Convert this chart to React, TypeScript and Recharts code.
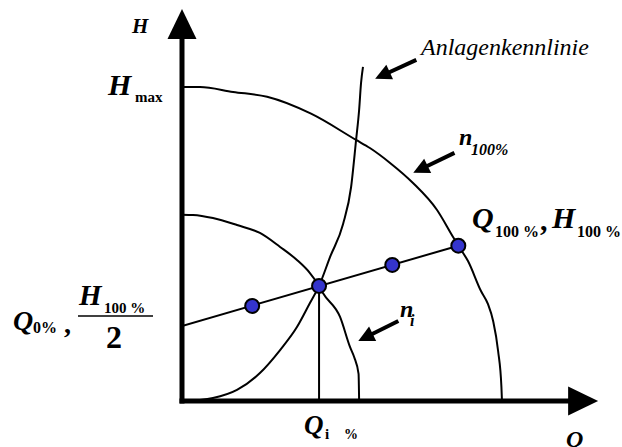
import React from 'react';
import { ComposedChart, Line, Scatter, XAxis, YAxis, ReferenceLine, Customized } from 'recharts';

// Q in % of Q100, H in % of H100
const n100Curve = [
  { q: 0, h: 202.2 }, { q: 6.5, h: 202.2 }, { q: 18.5, h: 199 }, { q: 30.8, h: 195.9 },
  { q: 46.7, h: 185 }, { q: 63, h: 168.1 }, { q: 68, h: 162.9 }, { q: 75.3, h: 153.3 },
  { q: 83.6, h: 140.4 }, { q: 92.3, h: 123 }, { q: 98.1, h: 105.6 }, { q: 100, h: 100 },
  { q: 103.5, h: 90.1 }, { q: 108.2, h: 70.8 }, { q: 110.7, h: 62.5 }, { q: 112.6, h: 51.5 },
  { q: 114.4, h: 32.2 }, { q: 115.6, h: 9 }, { q: 115.8, h: 0 },
];
const niCurve = [
  { q: 0, h: 120 }, { q: 4, h: 119.8 }, { q: 11.2, h: 117.8 }, { q: 19.9, h: 113.3 },
  { q: 28.2, h: 108.2 }, { q: 35.5, h: 99.2 }, { q: 41.6, h: 90.8 }, { q: 46.3, h: 82.4 },
  { q: 49.6, h: 74.1 }, { q: 51, h: 69.5 }, { q: 57.2, h: 54.1 }, { q: 60.8, h: 34.8 },
  { q: 62.3, h: 28.3 }, { q: 63.9, h: 17.4 }, { q: 64.1, h: 0 },
];
const systemCurve = [
  { q: 2.9, h: 0 }, { q: 6.5, h: 0.6 }, { q: 11.2, h: 1.9 }, { q: 19.9, h: 7.1 },
  { q: 28.2, h: 18 }, { q: 35.5, h: 32.8 }, { q: 41.6, h: 47.6 }, { q: 46.3, h: 63.1 },
  { q: 49.6, h: 74.1 }, { q: 53.6, h: 92.8 }, { q: 58.3, h: 114 }, { q: 61.2, h: 137.8 },
  { q: 63, h: 168 }, { q: 64.1, h: 187.4 }, { q: 64.8, h: 204.8 }, { q: 65.5, h: 215.1 },
];
const operatingLine = [{ q: 0, h: 48.3 }, { q: 100, h: 100 }];
const operatingPoints = [
  { q: 25.4, h: 61.2 }, { q: 49.6, h: 74.1 }, { q: 76.1, h: 87.6 }, { q: 100, h: 100 },
];
const qiLine = [{ q: 49.6, h: 0 }, { q: 49.6, h: 74.1 }];

const axisQ = [{ x: 0, y: 0 }, { x: 150.6, y: 0 }];
const axisH = [{ x: 0, y: 0 }, { x: 0, y: 252.4 }];
const annotationArrows = [
  [{ x: 84.8, y: 219.7 }, { x: 69.9, y: 207.5 }],
  [{ x: 98.6, y: 159.8 }, { x: 83.7, y: 146.9 }],
  [{ x: 78.3, y: 51.5 }, { x: 63.8, y: 38.7 }],
];

const serif = 'Liberation Serif, Tinos, Times New Roman, DejaVu Serif, serif';

const arrowShape = (w: number, headLen: number, headHalf: number, cap: 'butt' | 'square') => (p: any) => {
  const { x1, y1, x2, y2 } = p;
  const dx = x2 - x1, dy = y2 - y1;
  const len = Math.hypot(dx, dy) || 1;
  const ux = dx / len, uy = dy / len;
  const bx = x2 - ux * headLen, by = y2 - uy * headLen;
  const px = -uy, py = ux;
  return (
    <g>
      <line x1={x1} y1={y1} x2={bx + ux} y2={by + uy} stroke="#000" strokeWidth={w} strokeLinecap={cap} />
      <polygon
        points={`${x2},${y2} ${bx + px * headHalf},${by + py * headHalf} ${bx - px * headHalf},${by - py * headHalf}`}
        fill="#000"
      />
    </g>
  );
};

const T = ({ x, y, size, italic, bold, children }: any) => (
  <text
    x={x}
    y={y}
    fill="#000"
    fontFamily={serif}
    fontSize={size}
    fontStyle={italic ? 'italic' : 'normal'}
    fontWeight={bold ? 'bold' : 'normal'}
    style={{ fontFamily: serif }}
  >
    {children}
  </text>
);

const Labels = () => (
  <g fontFamily={serif}>
    <T x={132} y={33} size={21} italic bold>H</T>
    <T x={108} y={95} size={30} italic bold>H</T>
    <T x={135} y={102} size={15} bold>max</T>
    <T x={421} y={55} size={24} italic>Anlagenkennlinie</T>
    <T x={459} y={145} size={24} italic bold>n</T>
    <T x={471} y={155} size={16} italic bold>100%</T>
    <T x={400} y={317} size={24} italic bold>n</T>
    <T x={410} y={326} size={16} italic bold>i</T>
    <T x={472} y={228} size={30} italic bold>Q</T>
    <T x={495} y={237} size={16} bold>100 %</T>
    <T x={540} y={230} size={30} bold>,</T>
    <T x={552} y={228} size={30} italic bold>H</T>
    <T x={577} y={237} size={16} bold>100 %</T>
    <T x={13} y={330} size={28} italic bold>Q</T>
    <T x={33} y={333} size={16} bold>0%</T>
    <T x={64} y={333} size={28} bold>,</T>
    <T x={79} y={305} size={29} italic bold>H</T>
    <T x={104} y={313} size={15} bold>100 %</T>
    <line x1={78} y1={316} x2={153} y2={316} stroke="#000" strokeWidth={1.5} />
    <T x={106} y={348} size={32} bold>2</T>
    <T x={304} y={434} size={27} italic bold>Q</T>
    <T x={325} y={439} size={15} bold>i</T>
    <T x={344} y={439} size={14} bold>%</T>
    <T x={566} y={447} size={24} italic bold>Q</T>
  </g>
);

const dotShape = (p: any) => (
  <circle cx={p.cx} cy={p.cy} r={7} fill="#3434cc" stroke="#000" strokeWidth={2} />
);

export default function App() {
  return (
    <div style={{ position: 'absolute', left: 0, top: 0, background: '#fff', fontFamily: serif }}>
      <ComposedChart width={622} height={447} margin={{ top: 5, right: 20, bottom: 46, left: 182 }} style={{ fontFamily: serif }}>
        <XAxis type="number" dataKey="q" domain={[0, 152]} hide allowDataOverflow />
        <YAxis type="number" dataKey="h" domain={[0, 255]} hide allowDataOverflow />
        <Line data={n100Curve} dataKey="h" type="monotoneX" stroke="#000" strokeWidth={2} dot={false} activeDot={false} isAnimationActive={false} />
        <Line data={niCurve} dataKey="h" type="monotoneX" stroke="#000" strokeWidth={2} dot={false} activeDot={false} isAnimationActive={false} />
        <Line data={systemCurve} dataKey="h" type="monotoneX" stroke="#000" strokeWidth={2} dot={false} activeDot={false} isAnimationActive={false} />
        <Line data={operatingLine} dataKey="h" type="linear" stroke="#000" strokeWidth={2} dot={false} activeDot={false} isAnimationActive={false} />
        <Line data={qiLine} dataKey="h" type="linear" stroke="#000" strokeWidth={2} dot={false} activeDot={false} isAnimationActive={false} />
        <ReferenceLine segment={axisQ} ifOverflow="visible" shape={arrowShape(5, 30, 14.5, 'square')} />
        <ReferenceLine segment={axisH} ifOverflow="visible" shape={arrowShape(5, 30, 14.5, 'square')} />
        {annotationArrows.map((seg, i) => (
          <ReferenceLine key={i} segment={seg} ifOverflow="visible" shape={arrowShape(4, 16, 8, 'butt')} />
        ))}
        <Scatter data={operatingPoints} dataKey="h" shape={dotShape} isAnimationActive={false} />
        <Customized component={Labels} />
      </ComposedChart>
    </div>
  );
}
